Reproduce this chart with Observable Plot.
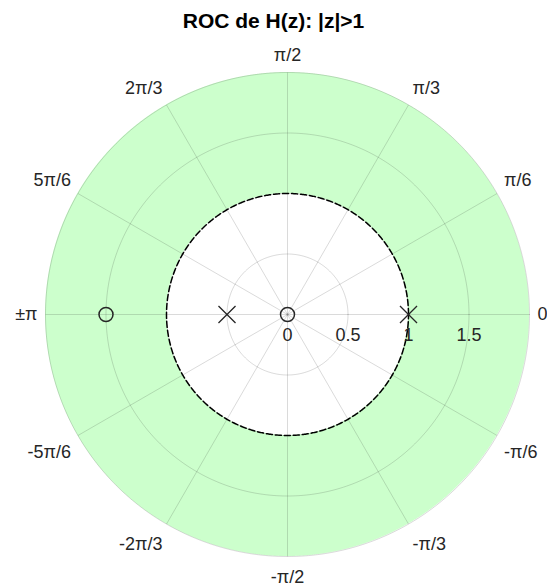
<!DOCTYPE html>
<html>
<head>
<meta charset="utf-8">
<script src="https://cdn.jsdelivr.net/npm/d3@7"></script>
<script src="https://cdn.jsdelivr.net/npm/@observablehq/plot@0.6"></script>
<style>
  html, body { margin: 0; padding: 0; background: #fff; }
  #title { height: 31px; padding-top: 9px; width: 547px; text-align: center;
    font: bold 21px "Liberation Sans", Arial, sans-serif; color: #000; line-height: 24px; }
</style>
</head>
<body>
<div id="title">ROC de H(z): |z|&gt;1</div>
<div id="chart"></div>
<script>
// ---- data ----
const poles = [-0.5, 1];          // real-axis pole locations
const zeros = [0, -1.5];          // real-axis zero locations
const rocInner = 1;               // ROC |z| > 1
const rMax = 2;                   // outer radius of the polar axes
const rGrid = [0.5, 1, 1.5, 2];
const rTicks = [0, 0.5, 1, 1.5];
const rTickLabels = ["0", "0.5", "1", "1.5"];
const thetaDeg = [0, 30, 60, 90, 120, 150, 180, 210, 240, 270, 300, 330];
const thetaLabels = ["0", "π/6", "π/3", "π/2", "2π/3", "5π/6", "±π", "-5π/6", "-2π/3", "-π/2", "-π/3", "-π/6"];

// ---- geometry helpers ----
const rad = d => d * Math.PI / 180;
const degs = d3.range(0, 360.5, 0.5);

// ROC annulus as two half areas (upper / lower)
const xs = Array.from(new Set([
  ...d3.range(0, 180.25, 0.25).map(t => rMax * Math.cos(rad(t))),
  ...d3.range(0, 180.25, 0.25).map(t => rocInner * Math.cos(rad(t)))
])).sort((a, b) => a - b);
const roc = [];
for (const half of [1, -1]) {
  for (const x of xs) {
    const yi = Math.sqrt(Math.max(0, rocInner * rocInner - x * x));
    const yo = Math.sqrt(Math.max(0, rMax * rMax - x * x));
    roc.push({x, y1: half * yi, y2: half * yo, half});
  }
}

const circles = rGrid.flatMap(r => degs.map(t => ({r, x: r * Math.cos(rad(t)), y: r * Math.sin(rad(t))})));
const rocCircle = degs.map(t => ({x: rocInner * Math.cos(rad(t)), y: rocInner * Math.sin(rad(t))}));
const spokes = thetaDeg.map(t => ({x2: rMax * Math.cos(rad(t)), y2: rMax * Math.sin(rad(t))}));

const R = 242; // px per rMax
const rl = rMax * (R + 8) / R;
const labels = thetaDeg.map((t, i) => {
  const c = Math.cos(rad(t)), s = Math.sin(rad(t));
  return {
    x: rl * c, y: rl * s, label: thetaLabels[i],
    ta: c > 0.1 ? "start" : c < -0.1 ? "end" : "middle",
    la: s > 0.1 ? "bottom" : s < -0.1 ? "top" : "middle"
  };
});

const textStyle = {fill: "#262626", fontSize: 18};
const labelMarks = [];
for (const ta of ["start", "middle", "end"]) {
  for (const la of ["bottom", "middle", "top"]) {
    const sub = labels.filter(d => d.ta === ta && d.la === la);
    if (sub.length) labelMarks.push(Plot.text(sub, {
      x: "x", y: "y", text: "label", textAnchor: ta, lineAnchor: la,
      dy: la === "bottom" ? -4 : la === "top" ? 6 : 0, ...textStyle
    }));
  }
}

const gridStyle = {stroke: "#262626", strokeOpacity: 0.17, strokeWidth: 1};

const chart = Plot.plot({
  width: 547,
  height: 548,
  marginLeft: 45,
  marginRight: 18,
  marginTop: 32,
  marginBottom: 32,
  x: {domain: [-rMax, rMax], axis: null},
  y: {domain: [-rMax, rMax], axis: null},
  style: {fontFamily: "'Liberation Sans', Arial, Helvetica, sans-serif", fontSize: "18px", background: "#fff"},
  marks: [
    Plot.areaY(roc, {x: "x", y1: "y1", y2: "y2", z: "half", fill: "#ccffcc", curve: "linear"}),
    Plot.line(circles, {x: "x", y: "y", z: "r", ...gridStyle}),
    Plot.link(spokes, {x1: 0, y1: 0, x2: "x2", y2: "y2", ...gridStyle}),
    Plot.line(rocCircle, {x: "x", y: "y", stroke: "#000", strokeWidth: 1.5, strokeDasharray: "6,3"}),
    Plot.dot(poles, {x: d => d, y: 0, symbol: "times", r: 7.8, stroke: "#262626", strokeWidth: 1.3}),
    Plot.dot(zeros, {x: d => d, y: 0, symbol: "circle", r: 7, stroke: "#262626", fill: "none", strokeWidth: 1.5}),
    Plot.dot([0], {x: d => d, y: 0, r: 1, fill: "#888", stroke: null}),
    Plot.text(rTicks, {x: d => d, y: 0, text: (d, i) => rTickLabels[i], dy: 21, textAnchor: "middle", lineAnchor: "middle", ...textStyle}),
    ...labelMarks
  ]
});
document.getElementById("chart").appendChild(chart);
</script>
</body>
</html>
